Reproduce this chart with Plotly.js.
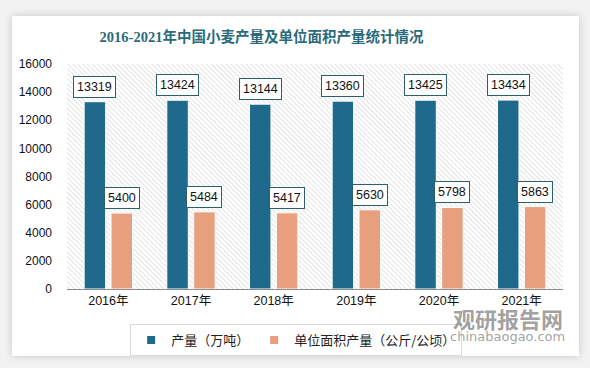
<!DOCTYPE html>
<html>
<head>
<meta charset="utf-8">
<script src="https://cdn.plot.ly/plotly-3.0.1.min.js"></script>
<style>
  html, body { margin:0; padding:0; background:#f2f2f2; width:590px; height:368px; overflow:hidden; }
  #card { position:absolute; left:12px; top:16px; width:567px; height:340px; background:#ffffff; box-shadow:0 0 8px rgba(0,0,0,0.18); }
  #chart { position:absolute; left:0; top:0; width:590px; height:368px; }
</style>
</head>
<body>
<div id="card"></div>
<div id="chart"></div>
<script>
const years = ['2016年', '2017年', '2018年', '2019年', '2020年', '2021年'];
const output = [13319, 13424, 13144, 13360, 13425, 13434];
const yieldPerArea = [5400, 5484, 5417, 5630, 5798, 5863];
const seriesNames = ['产量（万吨）', '单位面积产量（公斤/公顷）'];
const titleText = '2016-2021年中国小麦产量及单位面积产量统计情况';

const colors = ['#1f6a8c', '#e89f7d'];
const bargap = 0.35;
const off = (1 - bargap) / 4;

const W = 590, H = 368;
const margin = {l:67, r:27, t:64, b:79};
const pw = W - margin.l - margin.r, ph = H - margin.t - margin.b;

const svg = `<svg xmlns='http://www.w3.org/2000/svg' width='${pw}' height='${ph}'><defs><pattern id='p' width='3.5' height='3.5' patternUnits='userSpaceOnUse' patternTransform='rotate(-45)'><line x1='0' y1='0' x2='0' y2='3.5' stroke='#c8c8c8' stroke-width='1'/></pattern></defs><rect width='100%' height='100%' fill='url(#p)'/></svg>`;
const hatch = 'data:image/svg+xml;charset=utf-8,' + encodeURIComponent(svg);

const traces = [
  {type:'bar', x:years, y:output, name:seriesNames[0], showlegend:false, marker:{color:colors[0], line:{color:'#ffffff', width:1}}},
  {type:'bar', x:years, y:yieldPerArea, name:seriesNames[1], showlegend:false, marker:{color:colors[1], line:{color:'#ffffff', width:1}}},
  {type:'scatter', mode:'markers', x:[years[0]], y:[null], name:seriesNames[0], marker:{symbol:'square', size:8, color:colors[0]}},
  {type:'scatter', mode:'markers', x:[years[0]], y:[null], name:seriesNames[1], marker:{symbol:'square', size:8, color:colors[1]}}
];

const ann = [];
[output, yieldPerArea].forEach((arr, s) => {
  arr.forEach((v, i) => {
    ann.push({x: i + (s === 0 ? -off : off), y: v, xref:'x', yref:'y', text: String(v),
      showarrow:false, yanchor:'bottom', yshift:4,
      font:{family:'Liberation Sans, Arial, sans-serif', size:12.5, color:'#111'},
      bgcolor:'#ffffff', bordercolor:'#2b5f6e', borderwidth:1, borderpad:3});
  });
});
ann.push({xref:'paper', yref:'paper', x:0.889, xanchor:'center', y:-0.13, yanchor:'middle', text:'<b>观研报告网</b>', showarrow:false,
  font:{family:'Noto Sans CJK SC', size:22, color:'rgba(120,120,120,0.7)'}});
ann.push({xref:'paper', yref:'paper', x:0.889, xanchor:'center', y:-0.212, yanchor:'middle', text:'chinabaogao.com', showarrow:false,
  font:{family:'DejaVu Sans', size:13, color:'rgba(120,120,120,0.7)'}});

const layout = {
  width:W, height:H, margin:margin,
  paper_bgcolor:'rgba(0,0,0,0)', plot_bgcolor:'rgba(0,0,0,0)',
  bargap:bargap, bargroupgap:0.2, barmode:'group',
  title:{text:'<b>' + titleText + '</b>', x:261.5/590, xanchor:'center', xref:'container', y:1-37/368, yanchor:'middle', yref:'container',
    font:{family:'Liberation Serif, Noto Sans CJK SC, serif', size:14.5, color:'#2b6a7c'}},
  xaxis:{type:'category', showgrid:false, zeroline:false, showline:true, linecolor:'#8c8c8c', linewidth:1,
    tickfont:{family:'Liberation Sans, Noto Sans CJK SC, sans-serif', size:12.5, color:'#111'}, ticks:''},
  yaxis:{range:[0,16000], dtick:2000, tickformat:'d', showgrid:false, zeroline:false, showline:false,
    ticklabelstandoff:14,
    tickfont:{family:'Liberation Sans, Arial, sans-serif', size:12, color:'#111'}, ticks:''},
  legend:{orientation:'h', x:0.462, xanchor:'center', y:-0.156, yanchor:'top',
    bordercolor:'#d9d9d9', borderwidth:1, bgcolor:'rgba(255,255,255,0)',
    font:{family:'Noto Sans CJK SC', size:13, color:'#222'}, itemwidth:30},
  images:[{source:hatch, xref:'paper', yref:'paper', x:0, y:1, sizex:1, sizey:1, sizing:'stretch', xanchor:'left', yanchor:'top', layer:'below'}],
  annotations:ann,
  showlegend:true
};

Plotly.newPlot('chart', traces, layout, {displayModeBar:false, staticPlot:true});
</script>
</body>
</html>
